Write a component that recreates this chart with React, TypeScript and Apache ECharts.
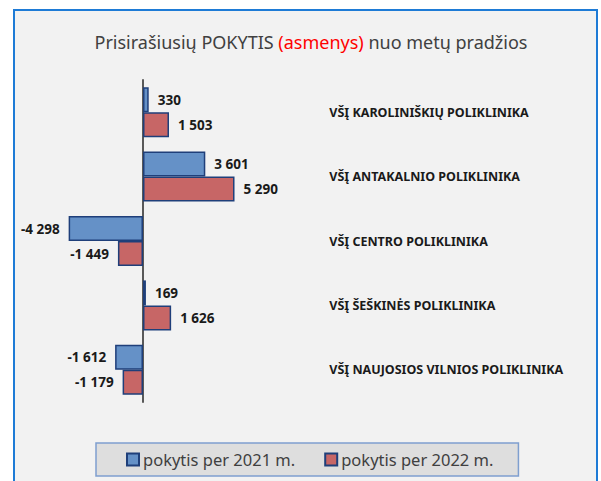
import React, { useEffect, useRef } from "react";
import * as echarts from "echarts";

const categories = [
  "VŠĮ KAROLINIŠKIŲ POLIKLINIKA",
  "VŠĮ ANTAKALNIO POLIKLINIKA",
  "VŠĮ CENTRO POLIKLINIKA",
  "VŠĮ ŠEŠKINĖS POLIKLINIKA",
  "VŠĮ NAUJOSIOS VILNIOS POLIKLINIKA",
];
const values2021 = [330, 3601, -4298, 169, -1612];
const values2022 = [1503, 5290, -1449, 1626, -1179];
const seriesNames = ["pokytis per 2021 m.", "pokytis per 2022 m."];

const FONT = "'Noto Sans', 'DejaVu Sans', sans-serif";

function fmt(v: number): string {
  const s = Math.abs(v).toString().replace(/\B(?=(\d{3})+(?!\d))/g, " ");
  return (v < 0 ? "-" : "") + s;
}

function toData(vals: number[]) {
  return vals.map((v) => ({
    value: v,
    label: { position: v < 0 ? "left" : "right" },
  }));
}

export default function App() {
  const ref = useRef<HTMLDivElement>(null);
  useEffect(() => {
    if (!ref.current) return;
    const chart = echarts.init(ref.current, undefined, { renderer: "svg" });
    const labelStyle = {
      show: true,
      distance: 9,
      fontFamily: FONT,
      fontWeight: "bold",
      fontSize: 13.5,
      color: "#1a1a1a",
      formatter: (p: any) => fmt(p.value),
    };
    chart.setOption({
      animation: false,
      backgroundColor: "#ffffff",
      graphic: [
        {
          type: "rect",
          z: -10,
          shape: { x: 14, y: 10, width: 583, height: 490 },
          style: { fill: "#f2f2f2", stroke: "#1e7bd6", lineWidth: 2 },
        },
      ],
      title: {
        left: 306,
        textAlign: "center",
        top: 28,
        text: "{a|Prisirašiusių POKYTIS }{b|(asmenys)}{a| nuo metų pradžios}",
        textStyle: {
          fontWeight: "normal",
          rich: {
            a: { fontFamily: FONT, fontSize: 18, fontWeight: "normal", color: "#404040" },
            b: { fontFamily: FONT, fontSize: 18, fontWeight: "normal", color: "#ff0000" },
          },
        },
      },
      legend: {
        left: 96,
        top: 443,
        padding: [8, 25, 8, 30],
        itemWidth: 12,
        itemHeight: 12,
        itemGap: 29,
        backgroundColor: "#dedede",
        borderColor: "#7f9fcf",
        borderWidth: 1.5,
        icon: "rect",
        textStyle: { fontFamily: FONT, fontSize: 16.5, color: "#404040", padding: [0, 0, 0, -1] },
        data: seriesNames,
      },
      grid: { left: 56.5, top: 80, width: 190.3, height: 322 },
      xAxis: {
        type: "value",
        min: -5000,
        max: 6000,
        show: false,
        splitLine: { show: false },
      },
      yAxis: [
        {
          type: "category",
          data: categories,
          inverse: true,
          axisLine: { show: true, onZero: true, lineStyle: { color: "#595959", width: 2 } },
          axisTick: { show: false },
          axisLabel: { show: false },
        },
        {
          type: "category",
          data: categories,
          inverse: true,
          position: "right",
          offset: 82.5,
          axisLine: { show: false },
          axisTick: { show: false },
          axisLabel: {
            margin: 0,
            align: "left",
            fontFamily: FONT,
            fontWeight: "bold",
            fontSize: 12.5,
            color: "#1a1a1a",
          },
        },
      ],
      series: [
        {
          name: seriesNames[0],
          type: "bar",
          data: toData(values2021),
          barWidth: 25,
          barGap: "0%",
          itemStyle: { color: "#6591c7", borderColor: "#1f3f7a", borderWidth: 1.5 },
          label: labelStyle,
        },
        {
          name: seriesNames[1],
          type: "bar",
          data: toData(values2022),
          barWidth: 25,
          barGap: "0%",
          itemStyle: { color: "#c76666", borderColor: "#1f3f7a", borderWidth: 1.5 },
          label: labelStyle,
        },
      ],
    });
    return () => chart.dispose();
  }, []);
  return (
    <div
      ref={ref}
      style={{ position: "absolute", left: 0, top: 0, width: 601, height: 481 }}
    />
  );
}
